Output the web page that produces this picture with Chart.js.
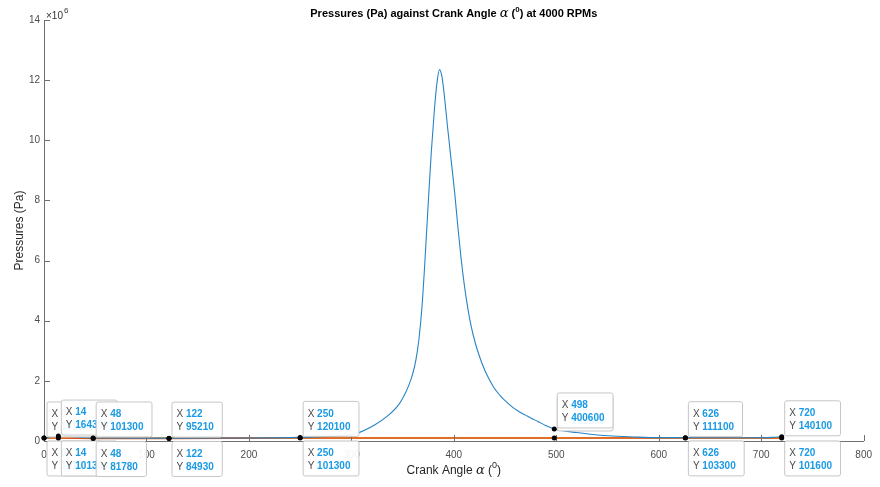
<!DOCTYPE html>
<html>
<head>
<meta charset="utf-8">
<script src="https://cdn.jsdelivr.net/npm/chart.js@4"></script>
<style>
  html, body { margin: 0; padding: 0; background: #fff; }
  #box { width: 880px; height: 487px; }
</style>
</head>
<body>
<div id="box"><canvas id="pressChart"></canvas></div>
<script>
// cylinder pressure (blue)
let cylAngle = [0, 14, 48, 122, 180, 250, 280, 304, 323, 336, 346, 352, 356, 360, 363, 366, 369, 372, 375, 378, 381, 383.5, 386, 388.5, 391, 394, 397.5, 401, 404, 407, 410, 413, 417, 421, 425, 429, 433, 439, 445, 450, 456, 463, 470, 476, 482, 490, 498, 520, 540, 580, 602, 626, 660, 690, 710, 720]
let cylPress = [101300, 164300, 101300, 95210, 98000, 120100, 160000, 240000, 540000, 850000, 1200000, 1550000, 1850000, 2250000, 2700000, 3400000, 4500000, 6100000, 7900000, 9600000, 11000000, 11900000, 12350000, 12100000, 11400000, 10400000, 9300000, 8200000, 7100000, 6100000, 5250000, 4550000, 3800000, 3250000, 2820000, 2450000, 2150000, 1780000, 1520000, 1340000, 1160000, 990000, 860000, 750000, 650000, 510000, 400600, 280000, 200000, 130000, 112000, 111100, 106000, 108000, 120000, 140100]

// second trace (orange)
let lowAngle = [0, 14, 48, 122, 180, 250, 360, 498, 540, 626, 720]
let lowPress = [101300, 101300, 81780, 84930, 95000, 101300, 101300, 101300, 102000, 103300, 101600]

// atmospheric line (yellow)
let atmAngle = [0, 720]
let atmPress = [101300, 101300]

// data tips
let tipX = [0, 14, 48, 122, 250, 498, 626, 720]
let tipUpper = [101300, 164300, 101300, 95210, 120100, 400600, 111100, 140100]
let tipLower = [101300, 101300, 81780, 84930, 101300, 101300, 103300, 101600]

let xTicks = [0, 800, 100]
let yTicks = [0, 14000000, 2000000]

function pts(xs, ys) {
  return xs.map((v, i) => ({ x: v, y: ys[i] }))
}

function drawRich(ctx, parts, cx, cy) {
  let w = 0
  parts.forEach(p => { ctx.font = p.font; p.w = ctx.measureText(p.t).width; w += p.w })
  let xx = cx - w / 2
  ctx.textAlign = 'left'
  ctx.textBaseline = 'middle'
  parts.forEach(p => { ctx.font = p.font; ctx.fillText(p.t, xx, cy + (p.dy || 0)); xx += p.w })
}

function drawTip(ctx, px, py, xv, yv, above) {
  const f1 = '10px "Liberation Sans", Arial', f2 = 'bold 10px "Liberation Sans", Arial'
  ctx.font = f1
  let wx = ctx.measureText('X ').width, wy = ctx.measureText('Y ').width
  ctx.font = f2
  let w = Math.max(wx + ctx.measureText(String(xv)).width, wy + ctx.measureText(String(yv)).width) + 13
  let h = 35
  let bx = px + 2.5
  let by = above ? py - 1.5 - h : py + 2.5
  ctx.fillStyle = 'rgba(255,255,255,0.93)'
  ctx.strokeStyle = '#c6c6c6'
  ctx.lineWidth = 1
  ctx.beginPath()
  ctx.roundRect(bx + 0.5, by + 0.5, w, h, 2)
  ctx.fill()
  ctx.stroke()
  ctx.textAlign = 'left'
  ctx.textBaseline = 'middle'
  ctx.font = f1; ctx.fillStyle = '#4a4a4a'
  ctx.fillText('X', bx + 5, by + 13)
  ctx.fillText('Y', bx + 5, by + 26)
  ctx.font = f2; ctx.fillStyle = '#1b9ae4'
  ctx.fillText(String(xv), bx + 5 + wx, by + 13)
  ctx.fillText(String(yv), bx + 5 + wy, by + 26)
}

const overlay = {
  id: 'overlay',
  afterDraw(chart) {
    const { ctx, chartArea: a, scales: { x, y } } = chart
    ctx.save()
    // inward ticks like matlab
    ctx.strokeStyle = '#6f6f6f'
    ctx.lineWidth = 1
    ctx.beginPath()
    for (let v = xTicks[0]; v <= xTicks[1]; v += xTicks[2]) {
      let px = Math.round(x.getPixelForValue(v)) + 0.5
      ctx.moveTo(px, a.bottom); ctx.lineTo(px, a.bottom - 6)
    }
    for (let v = yTicks[0]; v <= yTicks[1]; v += yTicks[2]) {
      let py = Math.round(y.getPixelForValue(v)) + 0.5
      ctx.moveTo(a.left, py); ctx.lineTo(a.left + 6, py)
    }
    ctx.stroke()

    // titles
    ctx.fillStyle = '#000'
    const B = 'bold 11px "Liberation Sans", Arial'
    drawRich(ctx, [
      { t: 'Pressures (Pa) against Crank Angle ', font: B },
      { t: 'α', font: 'italic 13px "DejaVu Serif", serif' },
      { t: ' (', font: B },
      { t: '0', font: 'bold 8px "Liberation Sans", Arial', dy: -4 },
      { t: ') at 4000 RPMs', font: B }
    ], (a.left + a.right) / 2, 14)

    ctx.fillStyle = '#262626'
    const N = '12px "Liberation Sans", Arial'
    drawRich(ctx, [
      { t: 'Crank Angle ', font: N },
      { t: 'α', font: 'italic 13px "DejaVu Serif", serif' },
      { t: ' (', font: N },
      { t: '0', font: '9px "Liberation Sans", Arial', dy: -5 },
      { t: ')', font: N }
    ], (a.left + a.right) / 2, 471)

    ctx.save()
    ctx.translate(20, (a.top + a.bottom) / 2)
    ctx.rotate(-Math.PI / 2)
    drawRich(ctx, [{ t: 'Pressures (Pa)', font: N }], 0, 0)
    ctx.restore()

    // exponent
    ctx.fillStyle = '#333'
    ctx.textAlign = 'left'
    ctx.textBaseline = 'middle'
    ctx.font = '10px "Liberation Sans", Arial'
    ctx.fillText('×10', a.left + 2, 16)
    ctx.font = '8px "Liberation Sans", Arial'
    ctx.fillText('6', a.left + 2 + 18, 11)

    // data tips, left to right so later ones sit on top
    tipX.forEach((tx, i) => {
      let px = x.getPixelForValue(tx)
      let pu = y.getPixelForValue(tipUpper[i])
      let pl = y.getPixelForValue(tipLower[i])
      if (tx === 498) {
        drawTip(ctx, px, pl - 6, tx, tipLower[i], true)
        drawTip(ctx, px, pu, tx, tipUpper[i], true)
      } else {
        drawTip(ctx, px, pu, tx, tipUpper[i], true)
        drawTip(ctx, px, pl, tx, tipLower[i], false)
      }
      ctx.fillStyle = '#000'
      ;[pu, pl].forEach(py => {
        ctx.beginPath(); ctx.arc(px, py, 2.5, 0, Math.PI * 2); ctx.fill()
      })
    })
    ctx.restore()
  }
}

let ctx = document.getElementById('pressChart').getContext('2d')
let myChart = new Chart(ctx, {
  type: 'line',
  data: {
    datasets: [
      { label: 'Cylinder', data: pts(cylAngle, cylPress), borderColor: 'rgb(38,132,198)', borderWidth: 1.1, pointRadius: 0, cubicInterpolationMode: 'monotone' },
      { label: 'Second', data: pts(lowAngle, lowPress), borderColor: 'rgb(217,83,25)', borderWidth: 1.6, pointRadius: 0 },
      { label: 'Atm', data: pts(atmAngle, atmPress), borderColor: 'rgb(237,177,32)', borderWidth: 1.4, pointRadius: 0 }
    ]
  },
  options: {
    responsive: true,
    maintainAspectRatio: false,
    animation: false,
    layout: { padding: { top: 20, right: 13, left: 0, bottom: 0 } },
    plugins: {
      legend: { display: false },
      tooltip: { enabled: false },
      title: { display: false }
    },
    scales: {
      x: {
        type: 'linear', min: xTicks[0], max: xTicks[1],
        ticks: { stepSize: xTicks[2], padding: 8, color: '#4d4d4d', font: { size: 10, family: '"Liberation Sans", Arial' } },
        grid: { drawOnChartArea: false, drawTicks: false },
        border: { color: '#6f6f6f', width: 1 },
        afterFit(s) { s.height = 46 }
      },
      y: {
        min: yTicks[0], max: yTicks[1],
        ticks: { stepSize: yTicks[2], padding: 4, color: '#4d4d4d', font: { size: 10, family: '"Liberation Sans", Arial' },
          callback: v => v / 1e6 },
        grid: { drawOnChartArea: false, drawTicks: false },
        border: { color: '#6f6f6f', width: 1 },
        afterFit(s) { s.width = 44 }
      }
    }
  },
  plugins: [overlay]
})
</script>
</body>
</html>
